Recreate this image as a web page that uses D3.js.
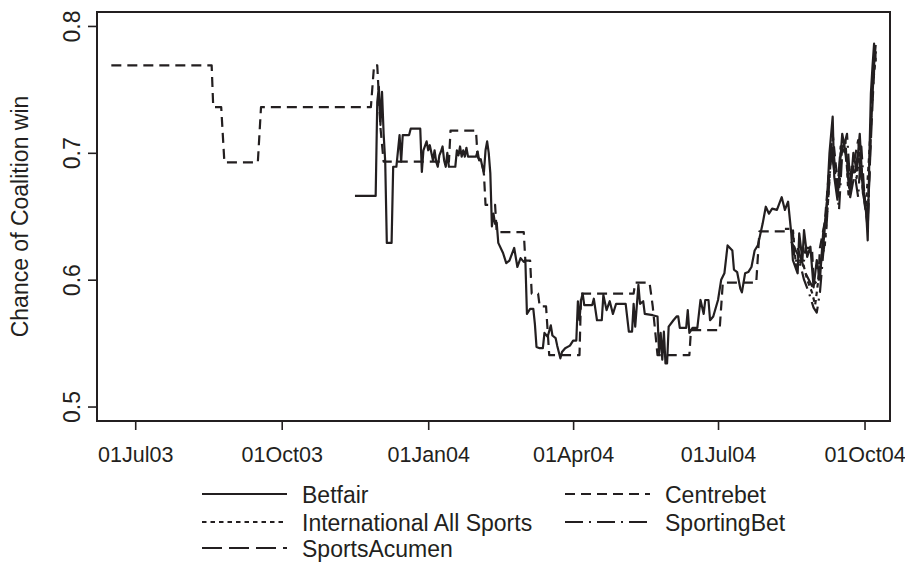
<!DOCTYPE html>
<html>
<head>
<meta charset="utf-8">
<script src="https://cdn.jsdelivr.net/npm/d3@7"></script>
<style>
  body { margin: 0; background: #fff; }
  svg { display: block; font-family: "Liberation Sans", Arial, Helvetica, sans-serif; }
</style>
</head>
<body>
<div id="chart"></div>
<script>
var svgWidth = 905;
var svgHeight = 567;

var margin = {
  top: 12,
  right: 15,
  bottom: 146,
  left: 97
};

var width = svgWidth - margin.left - margin.right;
var height = svgHeight - margin.top - margin.bottom;

// Data
// ==============================
var betfair = [
  ["2003-11-16", 0.666], ["2003-11-29", 0.666], ["2003-11-30", 0.740], ["2003-12-01", 0.752],
  ["2003-12-02", 0.722], ["2003-12-03", 0.748], ["2003-12-04", 0.715], ["2003-12-05", 0.693],
  ["2003-12-06", 0.629], ["2003-12-09", 0.629], ["2003-12-10", 0.689], ["2003-12-12", 0.689],
  ["2003-12-14", 0.714], ["2003-12-15", 0.693], ["2003-12-16", 0.714], ["2003-12-20", 0.714],
  ["2003-12-21", 0.719], ["2003-12-27", 0.719], ["2003-12-28", 0.685], ["2003-12-29", 0.702],
  ["2003-12-31", 0.709], ["2004-01-01", 0.702], ["2004-01-02", 0.706], ["2004-01-04", 0.694],
  ["2004-01-05", 0.702], ["2004-01-06", 0.693], ["2004-01-07", 0.689], ["2004-01-08", 0.698],
  ["2004-01-09", 0.701], ["2004-01-10", 0.705], ["2004-01-11", 0.694], ["2004-01-12", 0.689],
  ["2004-01-13", 0.700], ["2004-01-14", 0.689], ["2004-01-18", 0.689], ["2004-01-19", 0.702],
  ["2004-01-20", 0.698], ["2004-01-21", 0.705], ["2004-01-22", 0.697], ["2004-01-23", 0.702],
  ["2004-01-24", 0.697], ["2004-01-25", 0.704], ["2004-01-26", 0.697], ["2004-01-31", 0.697],
  ["2004-02-01", 0.701], ["2004-02-02", 0.694], ["2004-02-03", 0.695], ["2004-02-04", 0.689],
  ["2004-02-05", 0.685], ["2004-02-06", 0.702], ["2004-02-07", 0.709], ["2004-02-08", 0.700],
  ["2004-02-09", 0.684], ["2004-02-10", 0.642], ["2004-02-11", 0.652], ["2004-02-12", 0.644],
  ["2004-02-13", 0.645], ["2004-02-14", 0.629], ["2004-02-17", 0.621], ["2004-02-19", 0.613],
  ["2004-02-21", 0.615], ["2004-02-24", 0.625], ["2004-02-26", 0.610], ["2004-02-28", 0.617],
  ["2004-03-01", 0.614], ["2004-03-02", 0.6155], ["2004-03-03", 0.573], ["2004-03-05", 0.577],
  ["2004-03-07", 0.577], ["2004-03-08", 0.565], ["2004-03-09", 0.547], ["2004-03-11", 0.546],
  ["2004-03-13", 0.546], ["2004-03-14", 0.558], ["2004-03-16", 0.555], ["2004-03-18", 0.564],
  ["2004-03-19", 0.556], ["2004-03-21", 0.554], ["2004-03-22", 0.548], ["2004-03-24", 0.538],
  ["2004-03-25", 0.543], ["2004-03-27", 0.546], ["2004-03-30", 0.548], ["2004-04-01", 0.552],
  ["2004-04-03", 0.552], ["2004-04-04", 0.583], ["2004-04-05", 0.568], ["2004-04-06", 0.584],
  ["2004-04-07", 0.589], ["2004-04-08", 0.580], ["2004-04-13", 0.580], ["2004-04-14", 0.585],
  ["2004-04-16", 0.568], ["2004-04-19", 0.568], ["2004-04-20", 0.588], ["2004-04-22", 0.576],
  ["2004-04-24", 0.583], ["2004-04-26", 0.573], ["2004-04-28", 0.581], ["2004-05-04", 0.581],
  ["2004-05-06", 0.559], ["2004-05-08", 0.559], ["2004-05-09", 0.581], ["2004-05-10", 0.563],
  ["2004-05-12", 0.596], ["2004-05-13", 0.581], ["2004-05-15", 0.583], ["2004-05-16", 0.573],
  ["2004-05-21", 0.572], ["2004-05-24", 0.571], ["2004-05-25", 0.542], ["2004-05-26", 0.558],
  ["2004-05-27", 0.537], ["2004-05-28", 0.559], ["2004-05-29", 0.534], ["2004-05-30", 0.534],
  ["2004-05-31", 0.563], ["2004-06-03", 0.568], ["2004-06-05", 0.571], ["2004-06-06", 0.571],
  ["2004-06-07", 0.562], ["2004-06-11", 0.562], ["2004-06-12", 0.576], ["2004-06-13", 0.558],
  ["2004-06-15", 0.562], ["2004-06-18", 0.562], ["2004-06-20", 0.584], ["2004-06-22", 0.573],
  ["2004-06-23", 0.584], ["2004-06-25", 0.584], ["2004-06-26", 0.568], ["2004-06-28", 0.571],
  ["2004-07-01", 0.584], ["2004-07-03", 0.600], ["2004-07-05", 0.605], ["2004-07-07", 0.627],
  ["2004-07-10", 0.623], ["2004-07-11", 0.608], ["2004-07-13", 0.606], ["2004-07-15", 0.593],
  ["2004-07-16", 0.590], ["2004-07-18", 0.605], ["2004-07-20", 0.606], ["2004-07-22", 0.610],
  ["2004-07-24", 0.623], ["2004-07-26", 0.627], ["2004-07-29", 0.644], ["2004-07-31", 0.6575],
  ["2004-08-02", 0.652], ["2004-08-04", 0.656], ["2004-08-07", 0.655], ["2004-08-10", 0.665],
  ["2004-08-12", 0.655], ["2004-08-14", 0.6615], ["2004-08-16", 0.6365], ["2004-08-17", 0.6155],
  ["2004-08-20", 0.605], ["2004-08-21", 0.6365], ["2004-08-23", 0.6155], ["2004-08-24", 0.639],
  ["2004-08-26", 0.618], ["2004-08-28", 0.626], ["2004-08-30", 0.594], ["2004-09-01", 0.6155],
  ["2004-09-03", 0.600], ["2004-09-05", 0.6365], ["2004-09-07", 0.652], ["2004-09-09", 0.700],
  ["2004-09-11", 0.7285], ["2004-09-12", 0.681], ["2004-09-14", 0.663], ["2004-09-17", 0.715],
  ["2004-09-20", 0.694], ["2004-09-22", 0.668], ["2004-09-24", 0.700], ["2004-09-26", 0.686],
  ["2004-09-28", 0.715], ["2004-09-30", 0.668], ["2004-10-02", 0.655], ["2004-10-03", 0.631],
  ["2004-10-04", 0.694], ["2004-10-05", 0.747], ["2004-10-06", 0.768], ["2004-10-07", 0.786],
  ["2004-10-08", 0.772]
];

var centrebet = [
  ["2003-06-16", 0.769], ["2003-08-18", 0.769], ["2003-08-19", 0.736], ["2003-08-24", 0.736],
  ["2003-08-26", 0.6925], ["2003-09-16", 0.6925], ["2003-09-18", 0.736], ["2003-11-26", 0.736],
  ["2003-11-28", 0.769], ["2003-11-30", 0.769], ["2003-12-02", 0.720], ["2003-12-04", 0.693],
  ["2004-01-14", 0.693], ["2004-01-15", 0.7175], ["2004-01-31", 0.7175], ["2004-02-01", 0.697],
  ["2004-02-04", 0.690], ["2004-02-05", 0.683], ["2004-02-06", 0.659], ["2004-02-12", 0.659],
  ["2004-02-13", 0.6375], ["2004-03-01", 0.6375], ["2004-03-02", 0.615], ["2004-03-05", 0.615],
  ["2004-03-06", 0.589], ["2004-03-10", 0.589], ["2004-03-11", 0.579], ["2004-03-15", 0.579],
  ["2004-03-17", 0.5405], ["2004-04-05", 0.5405], ["2004-04-06", 0.589], ["2004-05-09", 0.589],
  ["2004-05-10", 0.5976], ["2004-05-19", 0.5976], ["2004-05-21", 0.579], ["2004-05-24", 0.5405],
  ["2004-06-13", 0.5405], ["2004-06-14", 0.5603], ["2004-07-02", 0.5603], ["2004-07-04", 0.5976],
  ["2004-07-25", 0.5976], ["2004-07-27", 0.638], ["2004-08-17", 0.638], ["2004-08-18", 0.615],
  ["2004-08-24", 0.615], ["2004-08-25", 0.625], ["2004-08-29", 0.625], ["2004-08-30", 0.600],
  ["2004-09-02", 0.600], ["2004-09-03", 0.625], ["2004-09-06", 0.645], ["2004-09-09", 0.690],
  ["2004-09-11", 0.715], ["2004-09-13", 0.690], ["2004-09-15", 0.670], ["2004-09-17", 0.705],
  ["2004-09-19", 0.705], ["2004-09-21", 0.680], ["2004-09-24", 0.690], ["2004-09-27", 0.710],
  ["2004-09-29", 0.690], ["2004-10-01", 0.660], ["2004-10-03", 0.645], ["2004-10-05", 0.720],
  ["2004-10-06", 0.760], ["2004-10-08", 0.780]
];

var intlAllSports = [
  ["2004-08-12", 0.640], ["2004-08-17", 0.640], ["2004-08-19", 0.610], ["2004-08-23", 0.615],
  ["2004-08-26", 0.600], ["2004-08-29", 0.590], ["2004-08-31", 0.580], ["2004-09-02", 0.600],
  ["2004-09-04", 0.618], ["2004-09-06", 0.626], ["2004-09-08", 0.660], ["2004-09-10", 0.700],
  ["2004-09-12", 0.690], ["2004-09-14", 0.665], ["2004-09-16", 0.700], ["2004-09-19", 0.710],
  ["2004-09-21", 0.665], ["2004-09-23", 0.690], ["2004-09-26", 0.680], ["2004-09-28", 0.700],
  ["2004-09-30", 0.670], ["2004-10-02", 0.660], ["2004-10-04", 0.700], ["2004-10-06", 0.750],
  ["2004-10-08", 0.775]
];

var sportingBet = [
  ["2004-08-16", 0.630], ["2004-08-20", 0.620], ["2004-08-24", 0.600], ["2004-08-27", 0.590],
  ["2004-08-30", 0.578], ["2004-09-01", 0.574], ["2004-09-03", 0.590], ["2004-09-05", 0.620],
  ["2004-09-07", 0.640], ["2004-09-09", 0.680], ["2004-09-11", 0.710], ["2004-09-13", 0.680],
  ["2004-09-15", 0.655], ["2004-09-17", 0.700], ["2004-09-20", 0.715], ["2004-09-22", 0.675],
  ["2004-09-24", 0.690], ["2004-09-27", 0.665], ["2004-09-29", 0.705], ["2004-10-01", 0.665],
  ["2004-10-03", 0.640], ["2004-10-05", 0.720], ["2004-10-07", 0.770], ["2004-10-08", 0.785]
];

var sportsAcumen = [
  ["2004-08-20", 0.625], ["2004-08-25", 0.605], ["2004-08-29", 0.595], ["2004-09-02", 0.600],
  ["2004-09-05", 0.625], ["2004-09-08", 0.670], ["2004-09-10", 0.705], ["2004-09-12", 0.685],
  ["2004-09-14", 0.670], ["2004-09-16", 0.705], ["2004-09-19", 0.700], ["2004-09-22", 0.665],
  ["2004-09-25", 0.685], ["2004-09-27", 0.700], ["2004-09-29", 0.680], ["2004-10-01", 0.665],
  ["2004-10-03", 0.650], ["2004-10-05", 0.710], ["2004-10-07", 0.765], ["2004-10-08", 0.780]
];

var seriesNames = ["Betfair", "Centrebet", "International All Sports", "SportingBet", "SportsAcumen"];
var xTickDates = ["2003-07-01", "2003-10-01", "2004-01-01", "2004-04-01", "2004-07-01", "2004-10-01"];
var yTickValues = [0.5, 0.6, 0.7, 0.8];

var parseDate = d3.timeParse("%Y-%m-%d");
var ink = "#231f20";
var fontSize = 23;

var svg = d3.select("#chart")
  .append("svg")
  .attr("width", svgWidth)
  .attr("height", svgHeight);

var chartGroup = svg.append("g")
  .attr("transform", `translate(${margin.left}, ${margin.top})`);

// Scales
var xTimeScale = d3.scaleTime()
  .domain([parseDate("2003-06-07"), parseDate("2004-10-17")])
  .range([0, width]);

var yLinearScale = d3.scaleLinear()
  .domain([0.4886, 0.811])
  .range([height, 0]);

// Axes
var bottomAxis = d3.axisBottom(xTimeScale)
  .tickValues(xTickDates.map(parseDate))
  .tickFormat(d3.timeFormat("%d%b%y"))
  .tickSize(9)
  .tickSizeOuter(0);

var leftAxis = d3.axisLeft(yLinearScale)
  .tickValues(yTickValues)
  .tickFormat(d3.format(".1f"))
  .tickSize(9)
  .tickSizeOuter(0);

var xAxisG = chartGroup.append("g")
  .attr("transform", `translate(0, ${height})`)
  .call(bottomAxis);

var yAxisG = chartGroup.append("g")
  .call(leftAxis);

[xAxisG, yAxisG].forEach(function(g) {
  g.select(".domain").remove();
  g.attr("font-family", null).attr("font-size", fontSize);
  g.selectAll(".tick line").attr("stroke", ink).attr("stroke-width", 1.6);
  g.selectAll(".tick text").attr("fill", ink);
});

// x labels a bit smaller so 01Oct04 stays inside the page
xAxisG.attr("font-size", 21.5);
xAxisG.selectAll(".tick text")
  .attr("y", 41)
  .attr("dy", 0);

yAxisG.selectAll(".tick text")
  .attr("x", null)
  .attr("dy", 0)
  .attr("text-anchor", "middle")
  .attr("transform", "translate(-17, 0) rotate(-90)");

// Lines
var lineGen = d3.line()
  .x(d => xTimeScale(parseDate(d[0])))
  .y(d => yLinearScale(d[1]));

var dashes = ["", "10,6", "4.5,4", "18,6,2,6", "20,7"];
var allSeries = [betfair, centrebet, intlAllSports, sportingBet, sportsAcumen];
var drawOrder = [1, 4, 3, 2, 0];

drawOrder.forEach(function(i) {
  chartGroup.append("path")
    .datum(allSeries[i])
    .attr("fill", "none")
    .attr("stroke", ink)
    .attr("stroke-width", 2.2)
    .attr("stroke-linejoin", "round")
    .attr("stroke-dasharray", dashes[i] || null)
    .attr("d", lineGen);
});

// Box
chartGroup.append("rect")
  .attr("width", width)
  .attr("height", height)
  .attr("fill", "none")
  .attr("stroke", ink)
  .attr("stroke-width", 2);

// Axis title
svg.append("text")
  .attr("transform", `translate(28, ${margin.top + height / 2}) rotate(-90)`)
  .attr("text-anchor", "middle")
  .attr("font-size", fontSize)
  .attr("fill", ink)
  .text("Chance of Coalition win");

// Legend
var legendCols = [202, 565];
var legendRows = [503, 531, 557];

seriesNames.forEach(function(name, i) {
  var lx = legendCols[i % 2];
  var ly = legendRows[Math.floor(i / 2)];
  svg.append("line")
    .attr("x1", lx)
    .attr("x2", lx + 85)
    .attr("y1", ly - 9)
    .attr("y2", ly - 9)
    .attr("stroke", ink)
    .attr("stroke-width", 2)
    .attr("stroke-dasharray", dashes[i] || null);
  svg.append("text")
    .attr("x", lx + 100)
    .attr("y", ly)
    .attr("font-size", fontSize)
    .attr("fill", ink)
    .text(name);
});
</script>
</body>
</html>
